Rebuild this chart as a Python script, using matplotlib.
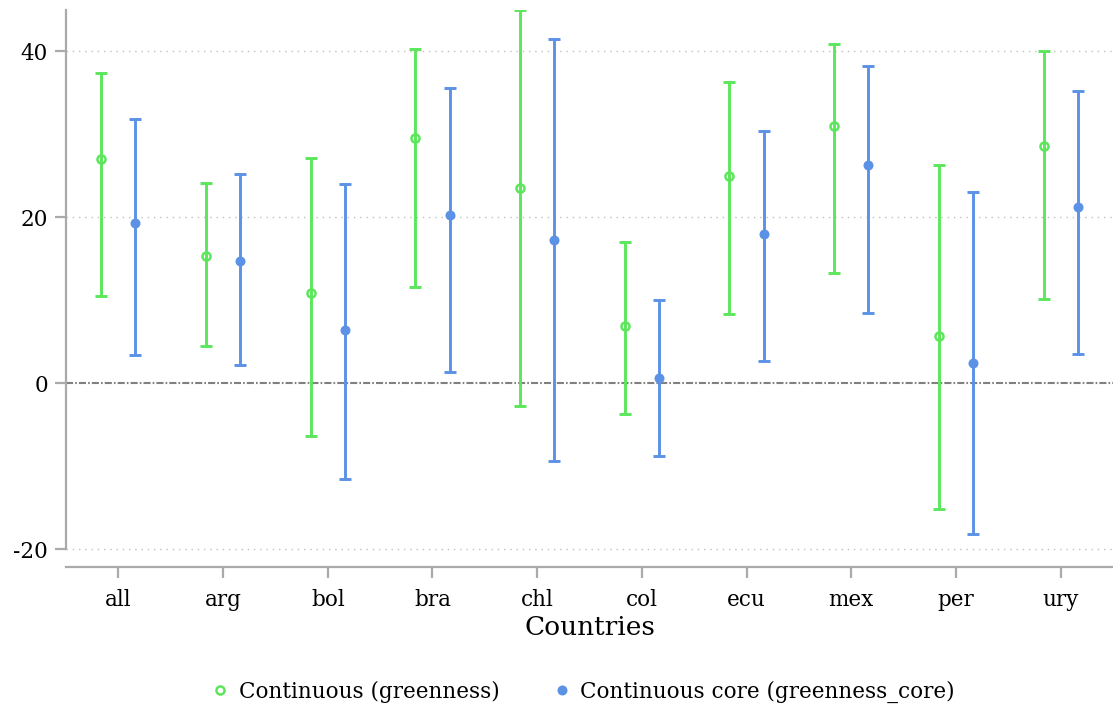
import matplotlib
matplotlib.use("Agg")
import matplotlib.pyplot as plt
import numpy as np
from matplotlib.lines import Line2D

countries = ["all", "arg", "bol", "bra", "chl", "col", "ecu", "mex", "per", "ury"]

green_est = [27.0, 15.35, 10.9, 29.5, 23.5, 6.9, 24.95, 31.0, 5.7, 28.56]
green_lo = [10.5, 4.48, -6.4, 11.55, -2.75, -3.7, 8.3, 13.27, -15.2, 10.2]
green_hi = [37.3, 24.15, 27.1, 40.2, 44.9, 17.0, 36.3, 40.8, 26.3, 40.0]

blue_est = [19.25, 14.7, 6.45, 20.2, 17.3, 0.6, 17.97, 26.27, 2.43, 21.25]
blue_lo = [3.4, 2.2, -11.5, 1.35, -9.4, -8.77, 2.7, 8.5, -18.2, 3.47]
blue_hi = [31.8, 25.2, 24.0, 35.5, 41.4, 10.0, 30.4, 38.2, 23.06, 35.2]

yticks = [-20, 0, 20, 40]

GREEN = "#5ce65c"
BLUE = "#5b92e5"
GRAY = "#aaaaaa"
SERIF = "DejaVu Serif"

fig = plt.figure(figsize=(11.13, 7.08), dpi=100)
ax = fig.add_axes([66 / 1113, 1 - 567 / 708, 1 - 66 / 1113, (567 - 10) / 708])

x = np.arange(len(countries))
off = 0.163

def draw(xs, est, lo, hi, color, filled):
    est = np.array(est); lo = np.array(lo); hi = np.array(hi)
    yerr = np.vstack([est - lo, hi - est])
    ax.errorbar(xs, est, yerr=yerr, fmt="none", ecolor=color,
                elinewidth=2.1, capsize=4.4, capthick=2.1, zorder=3)
    if filled:
        ax.plot(xs, est, ls="none", marker="o", markersize=7.2,
                markerfacecolor=color, markeredgewidth=0, zorder=4)
    else:
        ax.plot(xs, est, ls="none", marker="o", markersize=5.8,
                markerfacecolor="none", markeredgecolor=color,
                markeredgewidth=1.8, zorder=4)

draw(x - off, green_est, green_lo, green_hi, GREEN, False)
draw(x + off, blue_est, blue_lo, blue_hi, BLUE, True)

ax.set_xlim(-0.5, 9.5)
ax.set_ylim(-22.13, 44.94)

for yv in yticks:
    if yv == 0:
        ax.axhline(0, color="#808080", lw=1.5, dashes=(3.4, 1.0, 0.8, 1.0), zorder=1)
    else:
        ax.axhline(yv, color="#c0c0c0", lw=1.0, ls=(0, (1, 3.5)), zorder=1)

for s in ["top", "right"]:
    ax.spines[s].set_visible(False)
for s in ["left", "bottom"]:
    ax.spines[s].set_color(GRAY)
    ax.spines[s].set_linewidth(1.6)
ax.spines["left"].set_bounds(-20, 44.94)

ax.set_yticks(yticks)
ax.set_yticklabels([str(v) for v in yticks])
ax.set_xticks(x)
ax.set_xticklabels(countries)
ax.tick_params(axis="both", length=8, width=1.6, color=GRAY, labelsize=15.5)
ax.tick_params(axis="y", pad=5)
ax.tick_params(axis="x", pad=8)
for lab in ax.get_xticklabels() + ax.get_yticklabels():
    lab.set_fontfamily(SERIF)

ax.set_xlabel("Countries", fontsize=19, fontfamily=SERIF, labelpad=3)

handles = [
    Line2D([], [], ls="none", marker="o", markersize=5.8, markerfacecolor="none",
           markeredgecolor=GREEN, markeredgewidth=1.8),
    Line2D([], [], ls="none", marker="o", markersize=7.2, markerfacecolor=BLUE,
           markeredgewidth=0),
]
fig.legend(handles, ["Continuous (greenness)", "Continuous core (greenness_core)"],
           loc="center", bbox_to_anchor=(0.523, 1 - 692 / 708), ncol=2, frameon=False,
           prop={"family": SERIF, "size": 15.5}, handletextpad=0.35,
           columnspacing=2.4, handlelength=1.0)

fig.savefig("out.png", dpi=100)
